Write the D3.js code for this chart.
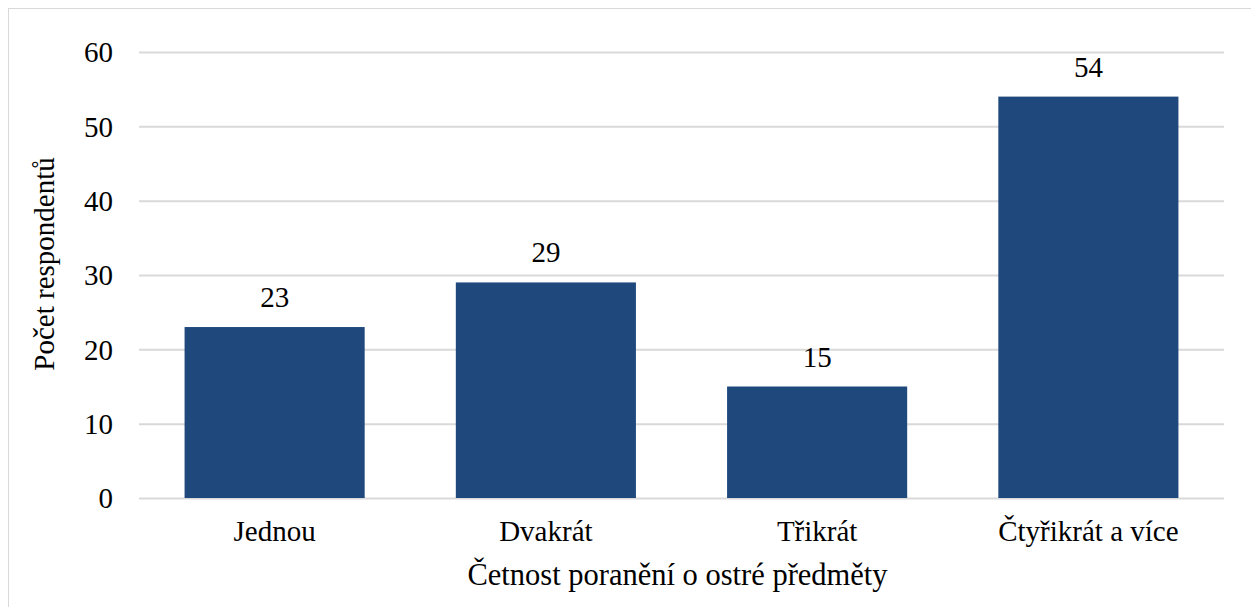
<!DOCTYPE html>
<html>
<head>
<meta charset="utf-8">
<script src="https://cdn.jsdelivr.net/npm/d3@7"></script>
<style>
  html, body { margin: 0; padding: 0; background: #fff; }
  svg { display: block; }
  text { font-family: "Liberation Serif", "Times New Roman", serif; fill: #000; }
</style>
</head>
<body>
<svg id="chart" width="1251" height="607"></svg>
<script>
// Data
const categories = ["Jednou", "Dvakrát", "Třikrát", "Čtyřikrát a více"];
const counts = [23, 29, 15, 54];
const yTicks = [0, 10, 20, 30, 40, 50, 60];
const xTitle = "Četnost poranění o ostré předměty";
const yTitle = "Počet respondentů";

const svg = d3.select("#chart");
const W = 1251, H = 607;
const plot = { left: 139, right: 1224, top: 52, bottom: 498 };
const fontSize = 29;
const serif = "'Liberation Serif', 'Times New Roman', serif";

// chart frame
svg.append("rect")
  .attr("x", 8.5).attr("y", 8.5)
  .attr("width", W + 20).attr("height", H + 20)
  .attr("fill", "#fff").attr("stroke", "#d9d9d9").attr("stroke-width", 1);

const x = d3.scaleBand().domain(categories)
  .range([plot.left, plot.right]).paddingInner(0.336).paddingOuter(0.168);
const y = d3.scaleLinear().domain([0, 60]).range([plot.bottom, plot.top]);

// gridlines + y tick labels
const yAxis = d3.axisLeft(y).tickValues(yTicks)
  .tickSize(-(plot.right - plot.left)).tickPadding(26).tickFormat(d3.format("d"));
const gy = svg.append("g").attr("transform", `translate(${plot.left},0)`).call(yAxis);
gy.select(".domain").remove();
gy.selectAll(".tick line").attr("stroke", "#d9d9d9").attr("stroke-width", 2);
gy.selectAll(".tick text")
  .style("font-family", serif)
  .style("font-size", fontSize + "px").attr("fill", "#000").attr("dy", "0.34em");

// bars
svg.append("g").selectAll("rect").data(categories).join("rect")
  .attr("x", d => x(d))
  .attr("width", x.bandwidth())
  .attr("y", (d, i) => y(counts[i]))
  .attr("height", (d, i) => y(0) - y(counts[i]))
  .attr("fill", "#1f497d");

// value labels
svg.append("g").selectAll("text").data(categories).join("text")
  .attr("x", d => x(d) + x.bandwidth() / 2)
  .attr("y", (d, i) => y(counts[i]) - 20)
  .attr("text-anchor", "middle")
  .style("font-family", serif)
  .style("font-size", fontSize + "px")
  .text((d, i) => counts[i]);

// category labels
const xAxis = d3.axisBottom(x).tickSize(0).tickPadding(0);
const gx = svg.append("g").attr("transform", `translate(0,${plot.bottom})`).call(xAxis);
gx.select(".domain").remove();
gx.selectAll(".tick text")
  .style("font-family", serif)
  .style("font-size", fontSize + "px").attr("fill", "#000")
  .attr("y", 43).attr("dy", 0);

// axis titles
svg.append("text")
  .attr("x", (plot.left + plot.right) / 2 - 4).attr("y", 585)
  .attr("text-anchor", "middle")
  .style("font-family", serif)
  .style("font-size", "30.5px")
  .text(xTitle);

svg.append("text")
  .attr("transform", "translate(54,264) rotate(-90)")
  .attr("text-anchor", "middle")
  .style("font-family", serif)
  .style("font-size", fontSize + "px")
  .text(yTitle);
</script>
</body>
</html>
